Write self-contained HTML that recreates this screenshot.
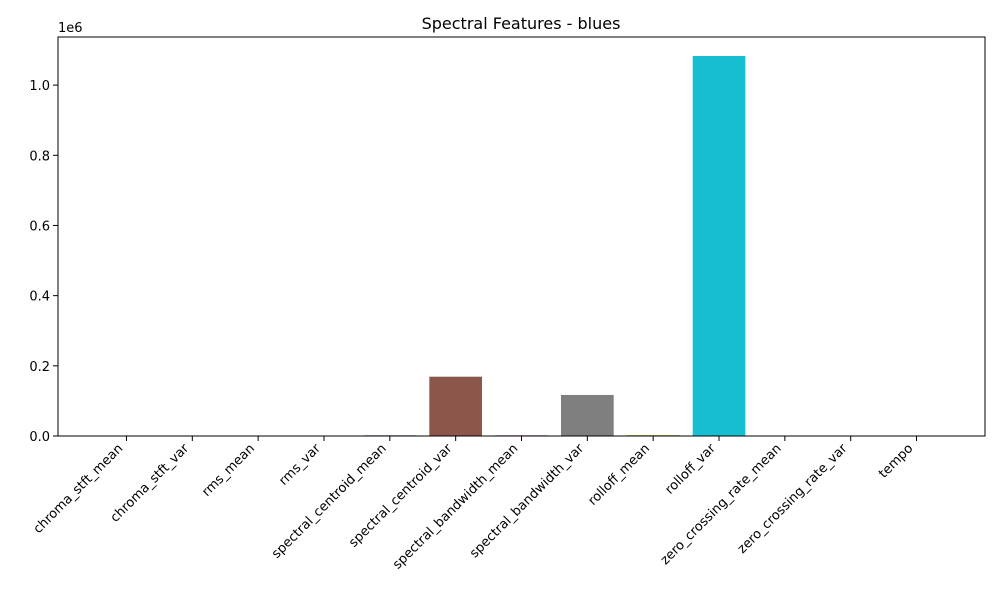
<!DOCTYPE html>
<html><head><meta charset="utf-8"><style>
body{margin:0;background:#fff;}
svg text{font-family:"DejaVu Sans","Liberation Sans",sans-serif;fill:#000;}
</style></head><body>
<svg id="chart" width="1000" height="600" xmlns="http://www.w3.org/2000/svg">
<rect width="1000" height="600" fill="#fff"/>
<text x="521" y="29" font-size="16" text-anchor="middle">Spectral Features - blues</text>
<g id="bars"></g><g id="xticks"></g><g id="yticks"></g>
<rect x="58" y="37" width="927" height="399" fill="none" stroke="#000" stroke-width="1"/>
<text x="58" y="32" font-size="13">1e6</text>
</svg>
<script>
const categories=["chroma_stft_mean","chroma_stft_var","rms_mean","rms_var","spectral_centroid_mean","spectral_centroid_var","spectral_bandwidth_mean","spectral_bandwidth_var","rolloff_mean","rolloff_var","zero_crossing_rate_mean","zero_crossing_rate_var","tempo"];
const values=[0.38,0.09,0.13,0.003,2000,169000,2200,117000,2500,1083000,0.1,0.003,120];
const yTicks=[0,0.2,0.4,0.6,0.8,1.0];
const yTickLabels=["0.0","0.2","0.4","0.6","0.8","1.0"];
const colors=["#1f77b4","#ff7f0e","#2ca02c","#d62728","#9467bd","#8c564b","#e377c2","#7f7f7f","#bcbd22","#17becf"];
const L=58,R=985,T=37,B=436,ns="http://www.w3.org/2000/svg";
const n=categories.length,xmin=-0.4-0.05*(n-0.2),xmax=n-1+0.4+0.05*(n-0.2);
const ymax=Math.max(...values)/1e6*1.05;
const xs=v=>L+(v-xmin)/(xmax-xmin)*(R-L);
const ys=v=>B-v/ymax*(B-T);
function mk(t,a,p){const e=document.createElementNS(ns,t);for(const k in a)e.setAttribute(k,a[k]);p.appendChild(e);return e;}
const gb=document.getElementById('bars'),gx=document.getElementById('xticks'),gy=document.getElementById('yticks');
categories.forEach((c,i)=>{
 const x0=xs(i-0.4),x1=xs(i+0.4),y=ys(values[i]/1e6);
 const r=mk('rect',{x:x0,y:y,width:x1-x0,height:B-y,fill:colors[i%10]},gb);
 
 
 const cx=xs(i);
 mk('line',{x1:cx,x2:cx,y1:B,y2:B+5,stroke:'#000'},gx);
 const ax=cx-3,ay=B+13;
 const t=mk('text',{x:ax,y:ay,'font-size':13,'text-anchor':'end',transform:`rotate(-45 ${ax} ${ay})`},gx);
 
 
 t.textContent=c;
});
yTicks.forEach((v,i)=>{
 const y=ys(v);
 mk('line',{x1:L-5,x2:L,y1:y,y2:y,stroke:'#000'},gy);
 const t=mk('text',{x:L-8,y:y+5,'font-size':13,'text-anchor':'end'},gy);
 
 
 t.textContent=yTickLabels[i];
});
</script>
</body></html>
